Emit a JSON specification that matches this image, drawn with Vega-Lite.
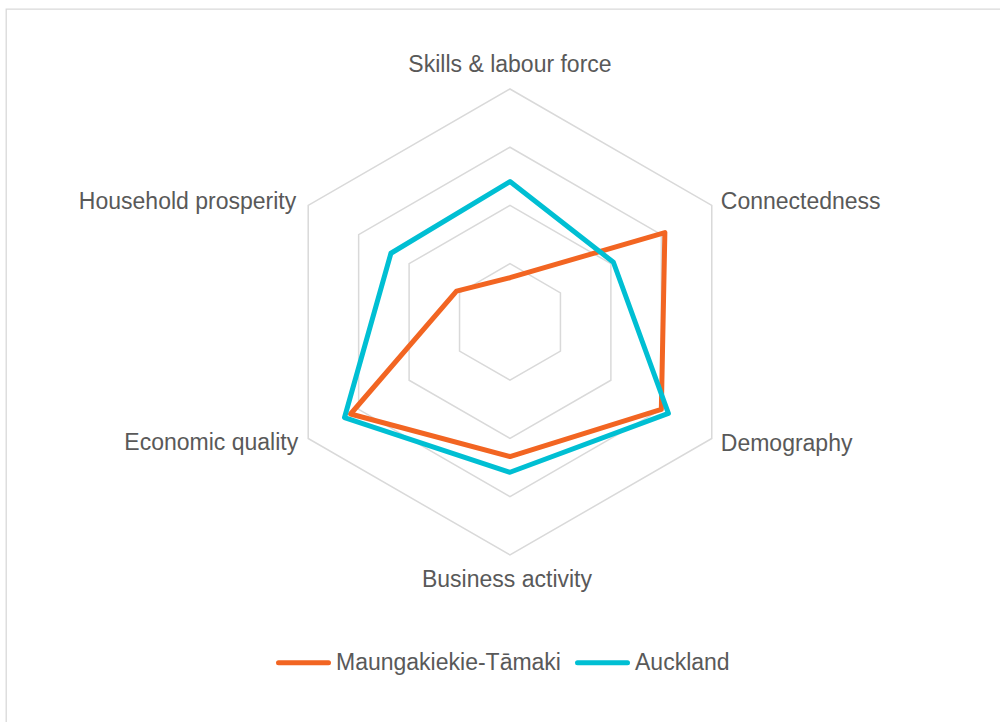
{
  "$schema": "https://vega.github.io/schema/vega-lite/v6.json",
  "width": 1000,
  "height": 722,
  "autosize": {"type": "none"},
  "padding": {"left": 6, "top": 9, "right": 0, "bottom": 0},
  "background": "white",
  "config": {
    "view": {"stroke": "#d9d9d9", "strokeWidth": 1.3},
    "font": "Liberation Sans",
    "text": {"font": "Liberation Sans", "fontSize": 23, "color": "#595959"}
  },
  "datasets": {
    "scores": [
      {"series": "Maungakiekie-Tāmaki", "axis": "Skills & labour force", "value": 0.76},
      {"series": "Maungakiekie-Tāmaki", "axis": "Connectedness", "value": 3.07},
      {"series": "Maungakiekie-Tāmaki", "axis": "Demography", "value": 3.0},
      {"series": "Maungakiekie-Tāmaki", "axis": "Business activity", "value": 2.31},
      {"series": "Maungakiekie-Tāmaki", "axis": "Economic quality", "value": 3.16},
      {"series": "Maungakiekie-Tāmaki", "axis": "Household prosperity", "value": 1.06},
      {"series": "Auckland", "axis": "Skills & labour force", "value": 2.41},
      {"series": "Auckland", "axis": "Connectedness", "value": 2.05},
      {"series": "Auckland", "axis": "Demography", "value": 3.14},
      {"series": "Auckland", "axis": "Business activity", "value": 2.58},
      {"series": "Auckland", "axis": "Economic quality", "value": 3.28},
      {"series": "Auckland", "axis": "Household prosperity", "value": 2.36}
    ],
    "axes": [
      {"axis": "Skills & labour force", "i": 0, "rings": [1, 2, 3, 4]},
      {"axis": "Connectedness", "i": 1, "rings": [1, 2, 3, 4]},
      {"axis": "Demography", "i": 2, "rings": [1, 2, 3, 4]},
      {"axis": "Business activity", "i": 3, "rings": [1, 2, 3, 4]},
      {"axis": "Economic quality", "i": 4, "rings": [1, 2, 3, 4]},
      {"axis": "Household prosperity", "i": 5, "rings": [1, 2, 3, 4]}
    ]
  },
  "layer": [
    {
      "data": {"name": "axes"},
      "transform": [
        {"flatten": ["rings"], "as": ["ring"]},
        {"calculate": "datum.ring*sin(datum.i*PI/3)", "as": "x"},
        {"calculate": "datum.ring*cos(datum.i*PI/3)", "as": "y"}
      ],
      "mark": {"type": "line", "stroke": "#d9d9d9", "strokeWidth": 1.5, "interpolate": "linear-closed"},
      "encoding": {
        "x": {"field": "x", "type": "quantitative", "axis": null, "scale": {"domain": [-8.652, 8.515], "nice": false, "zero": false}},
        "y": {"field": "y", "type": "quantitative", "axis": null, "scale": {"domain": [-7.022, 5.373], "nice": false, "zero": false}},
        "detail": {"field": "ring"},
        "order": {"field": "i", "type": "quantitative"}
      }
    },
    {
      "data": {"name": "scores"},
      "transform": [
        {"lookup": "axis", "from": {"data": {"name": "axes"}, "key": "axis", "fields": ["i"]}},
        {"calculate": "datum.value*sin(datum.i*PI/3)", "as": "x"},
        {"calculate": "datum.value*cos(datum.i*PI/3)", "as": "y"}
      ],
      "mark": {"type": "line", "strokeWidth": 5, "interpolate": "linear-closed", "strokeJoin": "round"},
      "encoding": {
        "x": {"field": "x", "type": "quantitative", "axis": null, "scale": {"domain": [-8.652, 8.515], "nice": false, "zero": false}},
        "y": {"field": "y", "type": "quantitative", "axis": null, "scale": {"domain": [-7.022, 5.373], "nice": false, "zero": false}},
        "order": {"field": "i", "type": "quantitative"},
        "color": {
          "field": "series",
          "type": "nominal",
          "sort": ["Maungakiekie-Tāmaki", "Auckland"],
          "scale": {"domain": ["Maungakiekie-Tāmaki", "Auckland"], "range": ["#F26522", "#00BFD3"]},
          "legend": {
            "title": null,
            "orient": "none",
            "legendX": 270,
            "legendY": 626,
            "direction": "horizontal",
            "symbolType": "stroke",
            "symbolSize": 2500,
            "symbolStrokeWidth": 5,
            "labelFontSize": 23,
            "labelColor": "#595959",
            "labelFont": "Liberation Sans",
            "labelOffset": 5,
            "columnPadding": 6,
            "padding": 0,
            "labelLimit": 400,
            "encode": {"symbols": {"update": {"strokeCap": {"value": "round"}}}}
          }
        }
      }
    },
    {
      "data": {"name": "axes"},
      "transform": [
        {"filter": "datum.i == 0"},
        {"calculate": "4*sin(datum.i*PI/3)", "as": "x"},
        {"calculate": "4*cos(datum.i*PI/3)", "as": "y"}
      ],
      "mark": {"type": "text", "align": "center", "baseline": "alphabetic", "dy": -17},
      "encoding": {
        "x": {"field": "x", "type": "quantitative", "axis": null, "scale": {"domain": [-8.652, 8.515], "nice": false, "zero": false}},
        "y": {"field": "y", "type": "quantitative", "axis": null, "scale": {"domain": [-7.022, 5.373], "nice": false, "zero": false}},
        "text": {"field": "axis"}
      }
    },
    {
      "data": {"name": "axes"},
      "transform": [
        {"filter": "datum.i == 1"},
        {"calculate": "4*sin(datum.i*PI/3)", "as": "x"},
        {"calculate": "4*cos(datum.i*PI/3)", "as": "y"}
      ],
      "mark": {"type": "text", "align": "left", "baseline": "alphabetic", "dx": 9, "dy": 4},
      "encoding": {
        "x": {"field": "x", "type": "quantitative", "axis": null, "scale": {"domain": [-8.652, 8.515], "nice": false, "zero": false}},
        "y": {"field": "y", "type": "quantitative", "axis": null, "scale": {"domain": [-7.022, 5.373], "nice": false, "zero": false}},
        "text": {"field": "axis"}
      }
    },
    {
      "data": {"name": "axes"},
      "transform": [
        {"filter": "datum.i == 2"},
        {"calculate": "4*sin(datum.i*PI/3)", "as": "x"},
        {"calculate": "4*cos(datum.i*PI/3)", "as": "y"}
      ],
      "mark": {"type": "text", "align": "left", "baseline": "alphabetic", "dx": 9, "dy": 13},
      "encoding": {
        "x": {"field": "x", "type": "quantitative", "axis": null, "scale": {"domain": [-8.652, 8.515], "nice": false, "zero": false}},
        "y": {"field": "y", "type": "quantitative", "axis": null, "scale": {"domain": [-7.022, 5.373], "nice": false, "zero": false}},
        "text": {"field": "axis"}
      }
    },
    {
      "data": {"name": "axes"},
      "transform": [
        {"filter": "datum.i == 3"},
        {"calculate": "4*sin(datum.i*PI/3)", "as": "x"},
        {"calculate": "4*cos(datum.i*PI/3)", "as": "y"}
      ],
      "mark": {"type": "text", "align": "center", "baseline": "alphabetic", "dx": -3, "dy": 32},
      "encoding": {
        "x": {"field": "x", "type": "quantitative", "axis": null, "scale": {"domain": [-8.652, 8.515], "nice": false, "zero": false}},
        "y": {"field": "y", "type": "quantitative", "axis": null, "scale": {"domain": [-7.022, 5.373], "nice": false, "zero": false}},
        "text": {"field": "axis"}
      }
    },
    {
      "data": {"name": "axes"},
      "transform": [
        {"filter": "datum.i == 4"},
        {"calculate": "4*sin(datum.i*PI/3)", "as": "x"},
        {"calculate": "4*cos(datum.i*PI/3)", "as": "y"}
      ],
      "mark": {"type": "text", "align": "right", "baseline": "alphabetic", "dx": -10, "dy": 12},
      "encoding": {
        "x": {"field": "x", "type": "quantitative", "axis": null, "scale": {"domain": [-8.652, 8.515], "nice": false, "zero": false}},
        "y": {"field": "y", "type": "quantitative", "axis": null, "scale": {"domain": [-7.022, 5.373], "nice": false, "zero": false}},
        "text": {"field": "axis"}
      }
    },
    {
      "data": {"name": "axes"},
      "transform": [
        {"filter": "datum.i == 5"},
        {"calculate": "4*sin(datum.i*PI/3)", "as": "x"},
        {"calculate": "4*cos(datum.i*PI/3)", "as": "y"}
      ],
      "mark": {"type": "text", "align": "right", "baseline": "alphabetic", "dx": -12, "dy": 4},
      "encoding": {
        "x": {"field": "x", "type": "quantitative", "axis": null, "scale": {"domain": [-8.652, 8.515], "nice": false, "zero": false}},
        "y": {"field": "y", "type": "quantitative", "axis": null, "scale": {"domain": [-7.022, 5.373], "nice": false, "zero": false}},
        "text": {"field": "axis"}
      }
    }
  ]
}
